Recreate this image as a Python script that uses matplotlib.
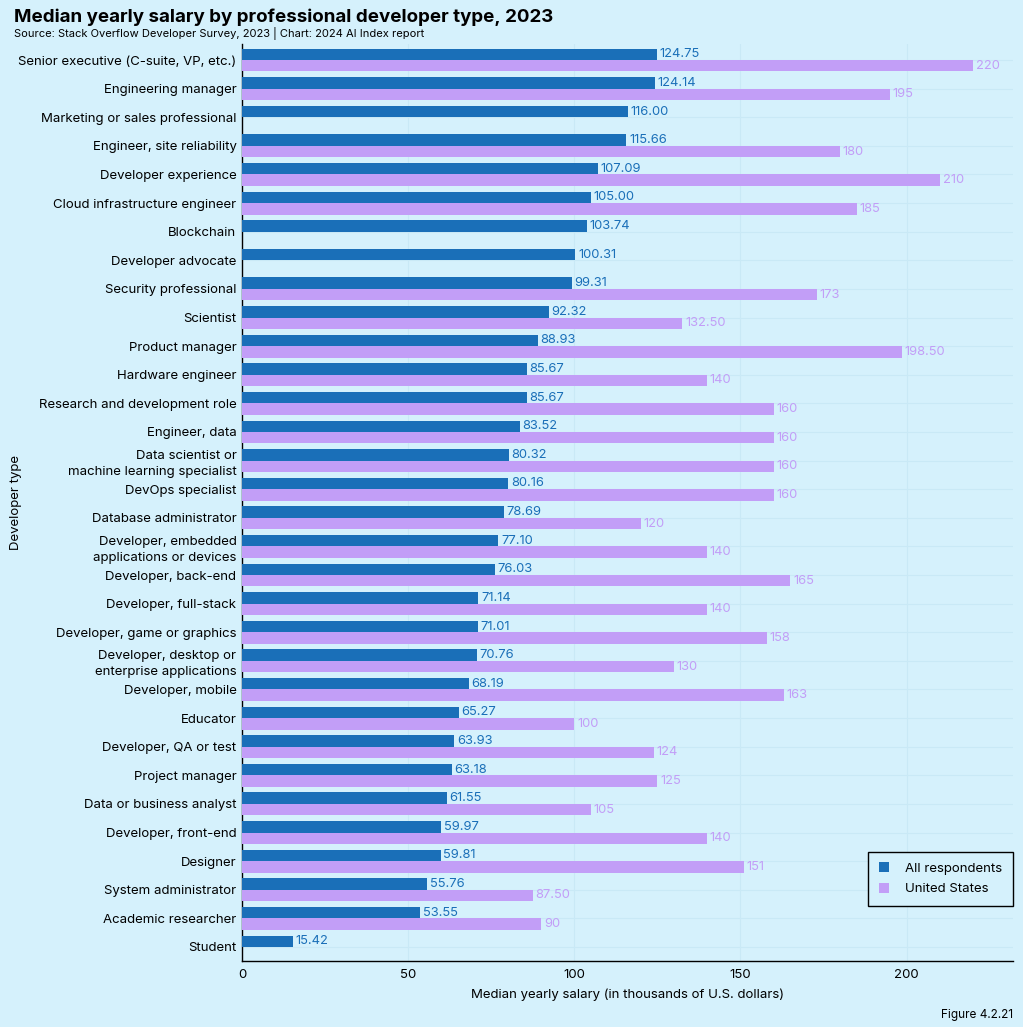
import matplotlib
matplotlib.use("Agg")
import matplotlib.pyplot as plt
import numpy as np

categories = [
    "Senior executive (C-suite, VP, etc.)", "Engineering manager", "Marketing or sales professional",
    "Engineer, site reliability", "Developer experience", "Cloud infrastructure engineer", "Blockchain",
    "Developer advocate", "Security professional", "Scientist", "Product manager", "Hardware engineer",
    "Research and development role", "Engineer, data", "Data scientist or\nmachine learning specialist",
    "DevOps specialist", "Database administrator", "Developer, embedded\napplications or devices",
    "Developer, back-end", "Developer, full-stack", "Developer, game or graphics",
    "Developer, desktop or\nenterprise applications", "Developer, mobile", "Educator",
    "Developer, QA or test", "Project manager", "Data or business analyst", "Developer, front-end",
    "Designer", "System administrator", "Academic researcher", "Student",
]
all_resp = [124.75, 124.14, 116.00, 115.66, 107.09, 105.00, 103.74, 100.31, 99.31, 92.32, 88.93,
            85.67, 85.67, 83.52, 80.32, 80.16, 78.69, 77.10, 76.03, 71.14, 71.01, 70.76, 68.19,
            65.27, 63.93, 63.18, 61.55, 59.97, 59.81, 55.76, 53.55, 15.42]
us = [220, 195, None, 180, 210, 185, None, None, 173, 132.50, 198.50, 140, 160, 160, 160, 160,
      120, 140, 165, 140, 158, 130, 163, 100, 124, 125, 105, 140, 151, 87.50, 90, None]
us_labels = ["220", "195", "", "180", "210", "185", "", "", "173", "132.50", "198.50", "140", "160",
             "160", "160", "160", "120", "140", "165", "140", "158", "130", "163", "100", "124",
             "125", "105", "140", "151", "87.50", "90", ""]

BG = "#d5f1fc"
BLUE = "#1a6fb8"
PURPLE = "#c29ef7"
GRID = "#c9e9f6"

plt.rcParams['font.family'] = ['Inter', 'DejaVu Sans']

fig = plt.figure(figsize=(10.23, 10.27), dpi=100, facecolor=BG)
ax = fig.add_axes([242/1023, 1 - 961/1027, (1013-242)/1023, (961-44)/1027])
ax.set_facecolor(BG)

y = np.arange(len(categories))
h = 0.4
ax.barh(y - h/2, all_resp, height=h, color=BLUE, label="All respondents", zorder=3)
us_y = [yy + h/2 for yy, v in zip(y, us) if v is not None]
ax.barh(us_y, [v for v in us if v is not None], height=h, color=PURPLE, label="United States", zorder=3)

for yy, v in zip(y, all_resp):
    ax.text(v + 0.8, yy - h/2, f"{v:.2f}", color=BLUE, va="center", ha="left", fontsize=9.3, zorder=4)
for yy, v, lab in zip(y, us, us_labels):
    if v is not None:
        ax.text(v + 0.8, yy + h/2, lab, color=PURPLE, va="center", ha="left", fontsize=9.3, zorder=4)

ax.set_yticks(y)
ax.set_yticklabels(categories, fontsize=9.3, linespacing=1.45)
ax.set_ylim(31 + 0.49, -0.56)
ax.set_xlim(0, 232)
ax.set_xticks([0, 50, 100, 150, 200])
ax.tick_params(axis='both', length=0, labelsize=9.5, pad=4)
ax.tick_params(axis='x', pad=6)
ax.grid(True, color=GRID, linewidth=0.8, zorder=0)
for s in ["top", "right"]:
    ax.spines[s].set_visible(False)
for s in ["left", "bottom"]:
    ax.spines[s].set_color("black")
    ax.spines[s].set_linewidth(1.0)

ax.set_xlabel("Median yearly salary (in thousands of U.S. dollars)", fontsize=9.5, labelpad=5)
ax.set_ylabel("Developer type", fontsize=9.5)
ax.yaxis.set_label_coords((22 - 242) / 771, 0.5)

leg = ax.legend(loc="lower right", bbox_to_anchor=(1.0, 0.06), borderaxespad=0, fontsize=9.5,
                frameon=True, fancybox=False, edgecolor="black", facecolor=BG, framealpha=1,
                handlelength=0.8, handleheight=0.8, borderpad=0.8, labelspacing=0.6, handletextpad=1.2)
leg.get_frame().set_linewidth(1.0)

fig.text(14/1023, 1 - 17/1027, "Median yearly salary by professional developer type, 2023",
         fontsize=13.5, fontweight="bold", va="center", ha="left")
fig.text(14/1023, 1 - 33/1027, "Source: Stack Overflow Developer Survey, 2023 | Chart: 2024 AI Index report",
         fontsize=8, va="center", ha="left")
fig.text(1013/1023, 1 - 1015/1027, "Figure 4.2.21", fontsize=8.5, va="center", ha="right")

fig.savefig("out.png", dpi=100, facecolor=BG)
